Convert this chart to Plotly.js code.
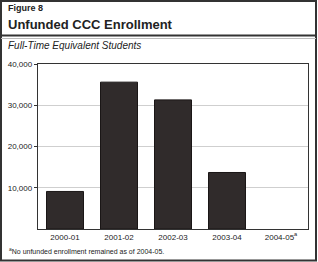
<!DOCTYPE html>
<html><head><meta charset="utf-8">
<script src="https://cdn.plot.ly/plotly-3.0.1.min.js"></script>
<style>html,body{margin:0;padding:0;background:#fff}#c{width:318px;height:262px}</style>
</head><body><div id="c"></div>
<script>
const categories = ['2000-01','2001-02','2002-03','2003-04','2004-05<sup>a</sup>'];
const enrollment = [9100, 35600, 31300, 13700, 0];
const yTickVals = [10000, 20000, 30000, 40000];
const yTickText = ['10,000','20,000','30,000','40,000'];

const F = 'Liberation Sans, Arial, Helvetica, sans-serif';
const L = 38, R = 10, T = 64, B = 33, W = 318, H = 262;
const pw = W - L - R, ph = H - T - B;
const px = x => (x - L) / pw;
const py = y => (H - B - y) / ph;

const trace = {
  type: 'bar', x: categories, y: enrollment,
  marker: {color: '#302b2b', line: {color: '#1a1616', width: enrollment.map(v => v > 0 ? 1 : 0)}},
  hoverinfo: 'skip'
};
const layout = {
  width: W, height: H,
  margin: {l: L, r: R, t: T, b: B, pad: 0},
  paper_bgcolor: '#fff', plot_bgcolor: '#fff',
  showlegend: false, bargap: 0.315,
  font: {family: F, color: '#222', size: 8},
  xaxis: {type: 'category', showline: true, linecolor: '#333', linewidth: 1.2, mirror: true,
          ticks: '', tickfont: {size: 8, family: F, color: '#222'}, fixedrange: true, showgrid: false},
  yaxis: {range: [0, 40000], tickvals: yTickVals, ticktext: yTickText, showline: true,
          linecolor: '#333', linewidth: 1.2, mirror: true, ticks: 'outside', ticklen: 3, tickcolor: '#333',
          gridcolor: '#cfcfcf', gridwidth: 1, zeroline: false, tickfont: {size: 8, family: F, color: '#222'}},
  shapes: [
    {type: 'rect', xref: 'paper', yref: 'paper', x0: px(1), x1: px(316), y0: py(260.5), y1: py(1),
     line: {color: '#333', width: 2}},
    {type: 'line', xref: 'paper', yref: 'paper', x0: px(1), x1: px(316), y0: py(35.5), y1: py(35.5),
     line: {color: '#333', width: 2}},
    {type: 'line', xref: 'paper', yref: 'paper', x0: px(1), x1: px(316), y0: py(38.5), y1: py(38.5),
     line: {color: '#bbb', width: 1}}
  ],
  annotations: [
    {xref: 'paper', yref: 'paper', x: px(6), y: py(8), xanchor: 'left', yanchor: 'middle', showarrow: false,
     text: '<b>Figure 8</b>', font: {size: 9, family: F, color: '#222'}},
    {xref: 'paper', yref: 'paper', x: px(6), y: py(24), xanchor: 'left', yanchor: 'middle', showarrow: false,
     text: '<b>Unfunded CCC Enrollment</b>', font: {size: 13, family: F, color: '#222'}},
    {xref: 'paper', yref: 'paper', x: px(6), y: py(46), xanchor: 'left', yanchor: 'middle', showarrow: false,
     text: '<i>Full-Time Equivalent Students</i>', font: {size: 10, family: F, color: '#222'}},
    {xref: 'paper', yref: 'paper', x: px(7), y: py(251), xanchor: 'left', yanchor: 'middle', showarrow: false,
     text: '<sup>a</sup>No unfunded enrollment remained as of 2004-05.', font: {size: 7, family: F, color: '#222'}}
  ]
};
Plotly.newPlot('c', [trace], layout, {displayModeBar: false, staticPlot: true});
</script></body></html>
